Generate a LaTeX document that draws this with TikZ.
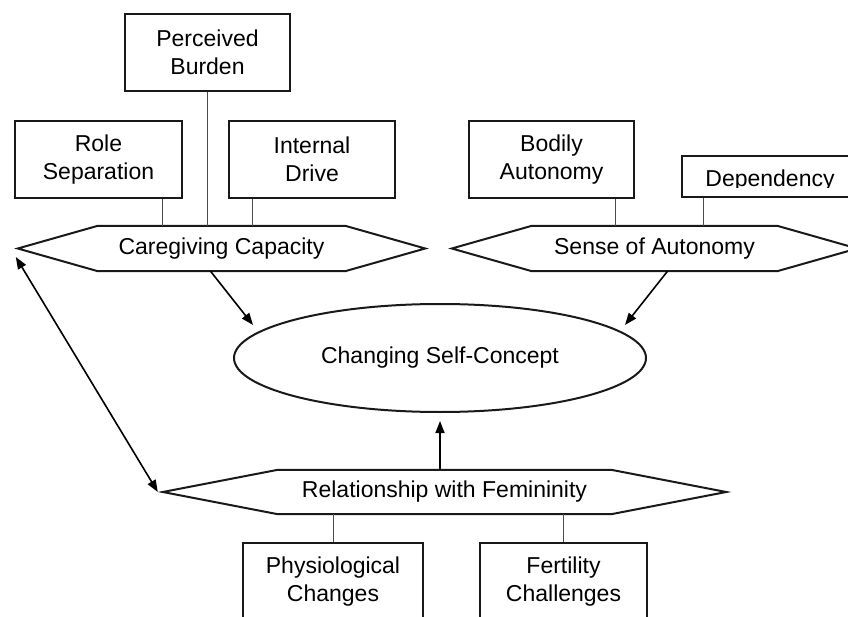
\documentclass[tikz,border=0pt]{standalone}
\usepackage{fontspec}
\setmainfont{Liberation Sans}
\usetikzlibrary{shapes.geometric,arrows.meta}

\newcommand\diafont{\fontsize{23}{28}\selectfont}
\newcommand\hexframe[2]{\draw[hexline] (#1.north west) -- (#1.north east) -- ([xshift=#2]#1.east)
  -- (#1.south east) -- (#1.south west) -- ([xshift=-#2]#1.west) -- cycle;}

\begin{document}
\begin{tikzpicture}[x=1pt,y=-1pt,
  box/.style={draw=black!90,line width=2pt,align=center,minimum height=77pt,inner sep=0pt,font=\diafont},
  hexlabel/.style={minimum height=45pt,inner sep=0pt,font=\diafont},
  hexline/.style={draw=black!90,line width=2pt},
  link/.style={draw=black!70,line width=1pt},
  causal/.style={line width=1.6pt,-{Triangle[length=12pt,width=9pt]}},
  dblcausal/.style={line width=1.6pt,{Triangle[length=12pt,width=9pt]}-{Triangle[length=12pt,width=9pt]}}]
\clip (0,0) rectangle (848,617);
\node[box,minimum width=165pt] (burden) at (207.5,52.5) {Perceived\\Burden};
\node[box,minimum width=167pt] (rolesep) at (98.5,159.5) {Role\\Separation};
\node[box,minimum width=166pt] (drive) at (312,159.5) {Internal\\Drive};
\node[box,minimum width=165pt] (bodily) at (551.5,159.5) {Bodily\\Autonomy};
\node[box,minimum width=176pt,minimum height=41pt,
  path picture={\clip (path picture bounding box.north west) rectangle ([yshift=9.5pt]path picture bounding box.south east);
    \node[anchor=base,inner sep=0pt,font=\diafont] at ([yshift=10pt]path picture bounding box.south) {Dependency};}]
  (depend) at (770,176.5) {};
% hexagons
\node[hexlabel,minimum width=247pt] (care) at (221.5,248.5) {Caregiving Capacity};
\hexframe{care}{80pt}
\node[hexlabel,minimum width=245pt] (sense) at (654.5,248.5) {Sense of Autonomy};
\hexframe{sense}{80pt}
\node[hexlabel,minimum width=333pt,minimum height=44pt] (fem) at (444.5,492) {Relationship with Femininity};
\hexframe{fem}{115pt}
\node[draw=black!90,line width=2pt,ellipse,minimum width=412pt,minimum height=108pt,inner sep=0pt,font=\diafont] (self) at (440,358) {Changing Self-Concept};
\node[box,minimum width=180pt] (physio) at (333,581.5) {Physiological\\Changes};
\node[box,minimum width=167pt] (fertil) at (563.5,581.5) {Fertility\\Challenges};
% links
\draw[link] ([xshift=-21pt]rolesep.south east) -- ([xshift=-21pt]rolesep.south east |- care.north);
\draw[link] (burden.south) -- (burden.south |- care.north);
\draw[link] ([xshift=24pt]drive.south west) -- ([xshift=24pt]drive.south west |- care.north);
\draw[link] ([xshift=-20pt]bodily.south east) -- ([xshift=-20pt]bodily.south east |- sense.north);
\draw[link] ([xshift=22pt]depend.south west) -- ([xshift=22pt]depend.south west |- sense.north);
\draw[link] (physio.north) -- (physio.north |- fem.south);
\draw[link] (fertil.north) -- (fertil.north |- fem.south);
% arrows
\draw[causal] ([xshift=-11pt]care.south) -- ([xshift=-187pt,yshift=33pt]self.center);
\draw[causal] ([xshift=13pt]sense.south) -- ([xshift=185pt,yshift=33pt]self.center);
\draw[causal] (fem.north -| self.south) -- ([yshift=-8pt]self.south);
\draw[dblcausal] ([xshift=-82pt,yshift=-8.5pt]care.west) -- ([xshift=-120pt]fem.west);
\end{tikzpicture}
\end{document}
